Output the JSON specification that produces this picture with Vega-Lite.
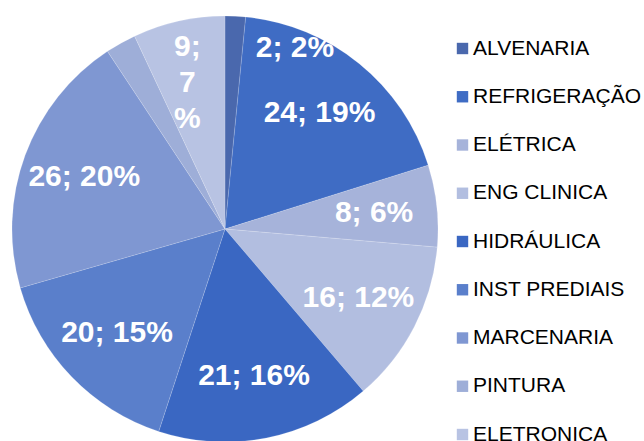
{
  "$schema": "https://vega.github.io/schema/vega-lite/v6.json",
  "width": 450,
  "height": 458,
  "autosize": "none",
  "padding": {"left": 0, "top": 0, "right": 194, "bottom": 0},
  "background": "white",
  "data": {
    "values": [
      {"setor": "ALVENARIA", "qtd": 2, "rotulo": "2; 2%", "ordem": 1},
      {"setor": "REFRIGERAÇÃO", "qtd": 24, "rotulo": "24; 19%", "ordem": 2},
      {"setor": "ELÉTRICA", "qtd": 8, "rotulo": "8; 6%", "ordem": 3},
      {"setor": "ENG CLINICA", "qtd": 16, "rotulo": "16; 12%", "ordem": 4},
      {"setor": "HIDRÁULICA", "qtd": 21, "rotulo": "21; 16%", "ordem": 5},
      {"setor": "INST PREDIAIS", "qtd": 20, "rotulo": "20; 15%", "ordem": 6},
      {"setor": "MARCENARIA", "qtd": 26, "rotulo": "26; 20%", "ordem": 7},
      {"setor": "PINTURA", "qtd": 3, "rotulo": "", "ordem": 8},
      {"setor": "ELETRONICA", "qtd": 9, "rotulo": "9;\n7\n%", "ordem": 9}
    ]
  },
  "encoding": {
    "theta": {"field": "qtd", "type": "quantitative", "stack": true},
    "order": {"field": "ordem", "type": "quantitative"}
  },
  "layer": [
    {
      "mark": {"type": "arc", "outerRadius": 213, "stroke": "#ffffff", "strokeWidth": 0.3, "strokeOpacity": 0.5},
      "encoding": {
        "color": {
          "field": "setor",
          "type": "nominal",
          "scale": {
            "domain": ["ALVENARIA", "REFRIGERAÇÃO", "ELÉTRICA", "ENG CLINICA", "HIDRÁULICA", "INST PREDIAIS", "MARCENARIA", "PINTURA", "ELETRONICA"],
            "range": ["#4a68ad", "#3f6cc4", "#a6b3da", "#b2bee0", "#3a67c2", "#5a7fcb", "#7f97d2", "#9eaed8", "#b8c3e3"]
          },
          "legend": {
            "title": null,
            "orient": "none",
            "legendX": 452,
            "legendY": 38,
            "symbolType": "square",
            "symbolSize": 130,
            "symbolStrokeWidth": 0,
            "labelFont": "Liberation Sans",
            "labelFontSize": 21,
            "labelColor": "#000000",
            "labelOffset": 0,
            "rowPadding": 26.25,
            "labelLimit": 300
          }
        }
      }
    },
    {
      "mark": {"type": "text", "radius": 150, "font": "Liberation Sans", "fontSize": 30, "fontWeight": "bold", "fill": "#ffffff", "baseline": "middle", "align": "center"},
      "encoding": {
        "text": {"condition": {"test": "datum.setor !== 'ALVENARIA' && datum.setor !== 'ELETRONICA'", "field": "rotulo"}, "value": ""}
      }
    },
    {
      "mark": {"type": "text", "radius": 181, "dx": 22, "font": "Liberation Sans", "fontSize": 30, "fontWeight": "bold", "fill": "#ffffff", "baseline": "middle", "align": "left"},
      "encoding": {
        "text": {"condition": {"test": "datum.setor === 'ALVENARIA'", "field": "rotulo"}, "value": ""}
      }
    },
    {
      "mark": {"type": "text", "radius": 150, "dx": -5, "dy": -36, "font": "Liberation Sans", "fontSize": 30, "fontWeight": "bold", "fill": "#ffffff", "lineBreak": "\n", "lineHeight": 36, "baseline": "middle", "align": "center"},
      "encoding": {
        "text": {"condition": {"test": "datum.setor === 'ELETRONICA'", "field": "rotulo"}, "value": ""}
      }
    }
  ]
}
